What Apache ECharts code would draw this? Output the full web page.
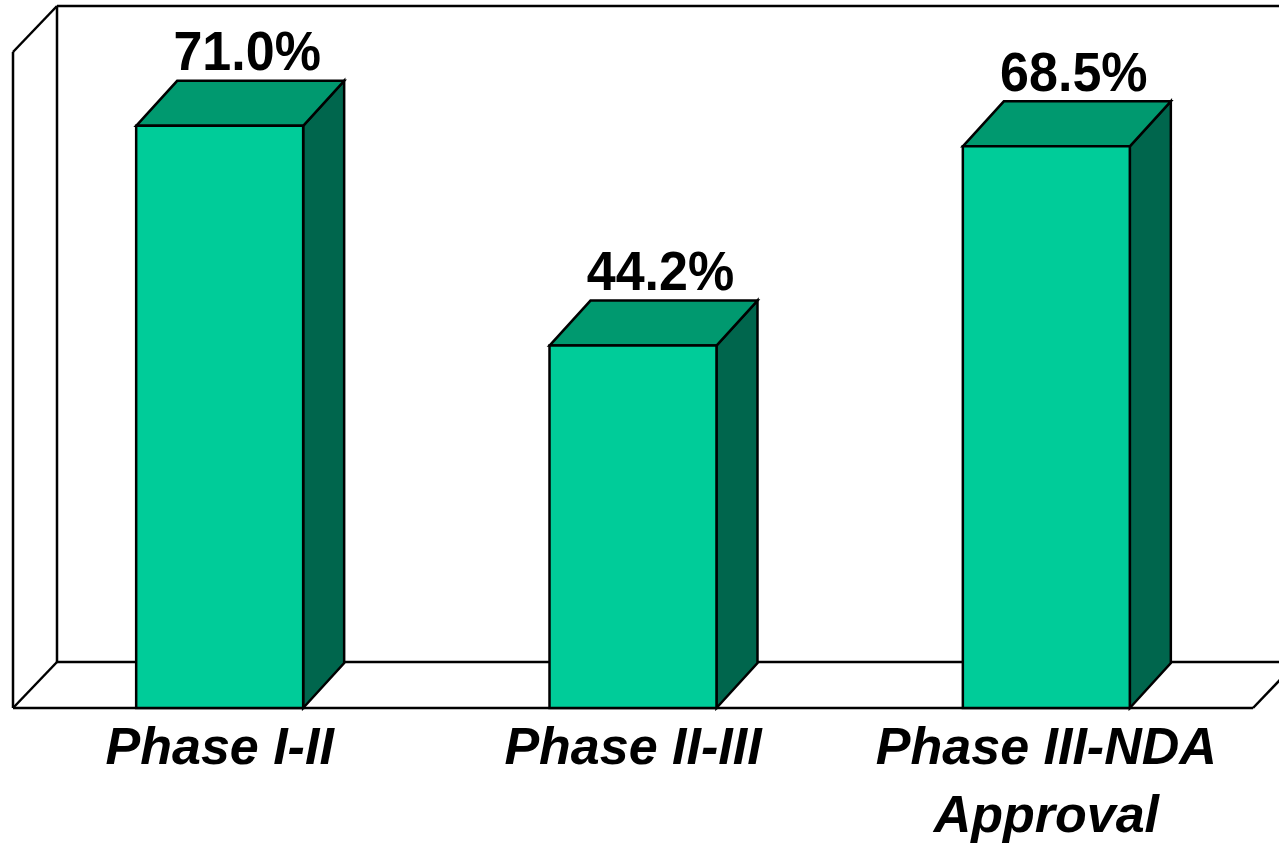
<!DOCTYPE html>
<html>
<head>
<meta charset="utf-8">
<style>
  html, body { margin: 0; padding: 0; background: #ffffff; }
  #chart { width: 1279px; height: 848px; }
</style>
<script src="https://cdn.jsdelivr.net/npm/echarts@6/dist/echarts.min.js"></script>
</head>
<body>
<div id="chart"></div>
<script>
// Phase transition success rates
const categories = ['Phase I-II', 'Phase II-III', 'Phase III-NDA\nApproval'];
const successRates = [71.0, 44.2, 68.5];
const yMax = 80;

// 3D look: depth offsets (pixels) for the box faces and the chart frame
const BAR_DX = 41, BAR_DY = 45;
const FRAME_DX = 44, FRAME_DY = 46;
const FRONT = '#00CC99', TOP = '#00996F', SIDE = '#00664D';
const EDGE = { stroke: '#000', lineWidth: 2.5 };
const FONT = '"Liberation Sans", Arial, sans-serif';

const chart = echarts.init(document.getElementById('chart'), null, { renderer: 'canvas' });

function frameItem(params, api) {
  const cs = params.coordSys;
  const x0 = cs.x, x1 = cs.x + cs.width;
  const yb = cs.y + cs.height, yt = cs.y;
  const l = (a, b, c, d) => ({ type: 'line', shape: { x1: a, y1: b, x2: c, y2: d }, style: EDGE });
  return {
    type: 'group',
    children: [
      // left side wall
      l(x0, yt, x0, yb),
      l(x0, yt, x0 + FRAME_DX, yt - FRAME_DY),
      l(x0, yb, x0 + FRAME_DX, yb - FRAME_DY),
      // back wall
      l(x0 + FRAME_DX, yt - FRAME_DY, x0 + FRAME_DX, yb - FRAME_DY),
      l(x0 + FRAME_DX, yt - FRAME_DY, x1 + FRAME_DX, yt - FRAME_DY),
      // floor
      l(x0 + FRAME_DX, yb - FRAME_DY, x1 + FRAME_DX, yb - FRAME_DY),
      l(x0, yb, x1, yb),
      l(x1, yb, x1 + FRAME_DX, yb - FRAME_DY)
    ]
  };
}

function barItem(params, api) {
  const idx = api.value(0);
  const val = api.value(1);
  const base = api.coord([idx, 0]);
  const top = api.coord([idx, val]);
  const w = api.size([1, 0])[0] * 0.404;
  const xl = base[0] - w / 2, xr = base[0] + w / 2;
  const yb = base[1], yt = top[1];
  return {
    type: 'group',
    children: [
      { type: 'polygon', shape: { points: [[xr, yb], [xr + BAR_DX, yb - BAR_DY], [xr + BAR_DX, yt - BAR_DY], [xr, yt]] },
        style: Object.assign({ fill: SIDE }, EDGE) },
      { type: 'polygon', shape: { points: [[xl, yt], [xl + BAR_DX, yt - BAR_DY], [xr + BAR_DX, yt - BAR_DY], [xr, yt]] },
        style: Object.assign({ fill: TOP }, EDGE) },
      { type: 'rect', shape: { x: xl, y: yt, width: w, height: yb - yt },
        style: Object.assign({ fill: FRONT }, EDGE) },
      // value label above the box, slightly tall lettering
      { type: 'text',
        x: base[0] + BAR_DX / 2 + 7, y: yt - BAR_DY + 2, scaleY: 1.08,
        style: {
          text: val.toFixed(1) + '%',
          x: 0, y: 0,
          align: 'center', verticalAlign: 'bottom',
          fontSize: 52, fontWeight: 'bold', fontFamily: FONT, fill: '#000'
        } }
    ]
  };
}

chart.setOption({
  animation: false,
  backgroundColor: '#ffffff',
  grid: { left: 13, right: 26, top: 52, bottom: 140, outerBoundsMode: 'none', containLabel: false },
  xAxis: {
    type: 'category',
    data: categories,
    axisLine: { show: false },
    axisTick: { show: false },
    axisLabel: {
      margin: 8,
      fontSize: 52, fontWeight: 'bold', fontStyle: 'italic',
      fontFamily: FONT, color: '#000', lineHeight: 68, interval: 0
    }
  },
  yAxis: { type: 'value', min: 0, max: yMax, show: false },
  series: [
    { type: 'custom', name: 'frame', renderItem: frameItem, data: [[0, 0]], silent: true, z: 1, clip: false },
    { type: 'custom', name: 'success', renderItem: barItem,
      data: successRates.map((v, i) => [i, v]), z: 2, clip: false }
  ]
});
</script>
</body>
</html>
